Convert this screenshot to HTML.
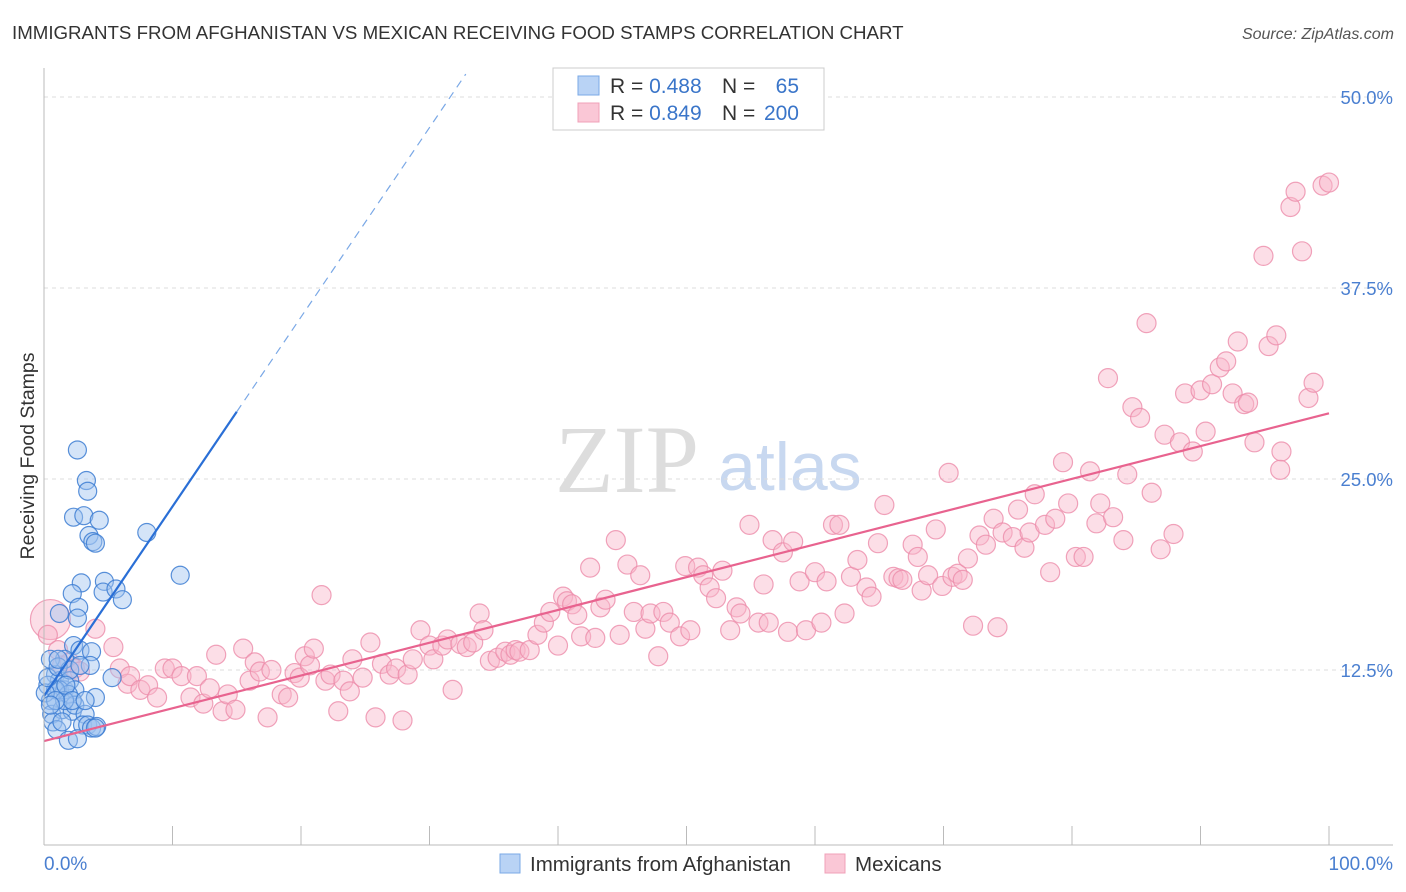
<!DOCTYPE html>
<html><head><meta charset="utf-8"><style>
body{margin:0;background:#fff;font-family:"Liberation Sans",sans-serif;}
#wrap{position:relative;width:1406px;height:892px;overflow:hidden;}
</style></head><body>
<div id="wrap">
<svg id="svg" width="1406" height="892">
<text x="12" y="39" font-size="18.7" fill="#333">IMMIGRANTS FROM AFGHANISTAN VS MEXICAN RECEIVING FOOD STAMPS CORRELATION CHART</text>
<text x="1394" y="39" font-size="16" fill="#555" font-style="italic" text-anchor="end">Source: ZipAtlas.com</text>
<text transform="translate(34,456) rotate(-90)" font-size="19.5" fill="#333" text-anchor="middle">Receiving Food Stamps</text>
<text x="555" y="492" font-size="96" fill="#ddd" font-family="Liberation Serif,serif">ZIP</text>
<text x="718" y="490" font-size="68" fill="#c8d8f0">atlas</text>
<g id="grid"></g><g id="pts"></g><g id="lines"></g>
<line x1="44" y1="68" x2="44" y2="845" stroke="#bbb"/>
<line x1="44" y1="845" x2="1393" y2="845" stroke="#bbb"/>
<text x="44" y="870" font-size="19" fill="#4a7fd0">0.0%</text>
<text x="1393" y="870" font-size="19" fill="#4a7fd0" text-anchor="end">100.0%</text>
<g>
<rect x="553" y="68" width="271" height="62" fill="#fff" stroke="#ccc"/>
<rect x="578" y="76" width="21" height="19" fill="#b9d3f5" stroke="#7aa8e6"/>
<rect x="578" y="103" width="21" height="19" fill="#fac7d6" stroke="#f0a0b8"/>
<text x="610" y="93" font-size="21" fill="#333">R = <tspan fill="#3a75c9">0.488</tspan></text>
<text x="722" y="93" font-size="21" fill="#333">N =</text><text x="799" y="93" font-size="21" fill="#3a75c9" text-anchor="end">65</text>
<text x="610" y="120" font-size="21" fill="#333">R = <tspan fill="#3a75c9">0.849</tspan></text>
<text x="722" y="120" font-size="21" fill="#333">N =</text><text x="799" y="120" font-size="21" fill="#3a75c9" text-anchor="end">200</text>
</g>
<g>
<rect x="500" y="854" width="20" height="19" fill="#b9d3f5" stroke="#7aa8e6"/>
<text x="530" y="871" font-size="20.5" fill="#333">Immigrants from Afghanistan</text>
<rect x="825" y="854" width="20" height="19" fill="#fac7d6" stroke="#f0a0b8"/>
<text x="855" y="871" font-size="20.5" fill="#333">Mexicans</text>
</g>
</svg></div>
<script>
const yTicks=[12.5,25,37.5,50];
const yTickLabels=["12.5%","25.0%","37.5%","50.0%"];
const xTicks=[0,10,20,30,40,50,60,70,80,90,100];
const blueX=[2.6,3.3,3.4,2.3,3.1,4.3,3.5,3.8,4.0,8.0,10.6,2.9,2.2,2.7,4.7,4.6,5.6,6.1,2.6,1.2,2.3,2.8,3.7,3.6,0.9,1.2,0.3,1.6,2.0,0.5,1.2,2.4,1.9,5.3,0.6,1.4,2.2,2.4,0.7,1.0,3.2,4.0,3.0,3.4,3.7,4.1,1.9,2.6,4.0,1.6,0.5,0.9,1.6,0.1,0.3,1.1,2.0,1.7,2.2,0.9,3.2,0.5,1.4,1.1,2.8];
const blueY=[26.9,24.9,24.2,22.5,22.6,22.3,21.3,20.9,20.8,21.5,18.7,18.2,17.5,16.6,18.3,17.6,17.8,17.1,15.9,16.2,14.1,13.8,13.7,12.8,12.2,11.8,11.5,11.2,11.8,10.5,11.2,11.2,10.9,12.0,9.6,9.9,9.8,10.2,9.1,8.6,9.6,10.7,8.9,8.9,8.7,8.8,7.9,8.0,8.7,13.2,13.2,11.2,10.5,11.0,12.0,12.7,12.5,11.5,10.5,10.5,10.5,10.2,9.1,13.2,12.8];
const pinkX=[0.5,0.3,1.1,1.4,2.0,2.4,2.8,4.0,5.4,5.9,6.5,6.7,7.5,8.1,8.8,9.4,10.0,10.7,11.4,11.9,12.4,12.9,13.4,13.9,14.3,14.9,15.5,16.0,16.4,16.8,17.4,17.7,18.5,19.0,19.5,19.9,20.3,20.7,21.0,21.6,21.9,22.3,22.9,23.3,23.8,24.0,24.8,25.4,25.8,26.3,26.9,27.4,27.9,28.3,28.7,29.3,30.0,30.3,31.0,31.4,31.8,32.4,32.9,33.4,33.9,34.2,34.7,35.3,35.9,36.3,36.7,37.0,37.8,38.4,38.9,39.4,40.0,40.4,40.7,41.1,41.5,41.8,42.5,42.9,43.3,43.7,44.5,44.8,45.4,45.9,46.4,46.8,47.2,47.8,48.2,48.7,49.5,49.9,50.3,50.9,51.3,51.8,52.3,52.8,53.4,53.9,54.2,54.9,55.6,56.0,56.4,56.7,57.5,57.9,58.3,58.8,59.3,60.0,60.5,60.9,61.4,61.9,62.3,62.8,63.3,64.0,64.4,64.9,65.4,66.1,66.5,66.8,67.6,68.0,68.3,68.8,69.4,69.9,70.4,70.7,71.1,71.5,71.9,72.3,72.8,73.3,73.9,74.2,74.6,75.4,75.8,76.3,76.7,77.1,77.9,78.3,78.7,79.3,79.7,80.3,80.9,81.4,81.9,82.2,82.8,83.2,84.0,84.3,84.7,85.3,85.8,86.2,86.9,87.2,87.9,88.4,88.8,89.4,90.0,90.4,90.9,91.5,92.0,92.5,92.9,93.4,93.7,94.2,94.9,95.3,95.9,96.3,97.0,97.4,97.9,98.4,98.8,99.5,100.0,96.2];
const pinkY=[15.8,14.8,13.8,12.8,13.0,12.6,12.4,15.2,14.0,12.6,11.6,12.1,11.2,11.5,10.7,12.6,12.6,12.1,10.7,12.1,10.3,11.3,13.5,9.8,10.9,9.9,13.9,11.8,13.0,12.4,9.4,12.5,10.9,10.7,12.3,12.0,13.4,12.8,13.9,17.4,11.8,12.2,9.8,11.8,11.1,13.2,12.0,14.3,9.4,12.9,12.2,12.6,9.2,12.2,13.2,15.1,14.1,13.2,14.1,14.5,11.2,14.2,14.0,14.3,16.2,15.1,13.1,13.3,13.7,13.5,13.8,13.7,13.8,14.8,15.6,16.3,14.1,17.3,17.0,16.8,16.1,14.7,19.2,14.6,16.6,17.1,21.0,14.8,19.4,16.3,18.7,15.2,16.2,13.4,16.3,15.6,14.7,19.3,15.1,19.2,18.7,17.9,17.2,19.0,15.1,16.6,16.2,22.0,15.6,18.1,15.6,21.0,20.2,15.0,20.9,18.3,15.1,18.9,15.6,18.3,22.0,22.0,16.2,18.6,19.7,17.9,17.3,20.8,23.3,18.6,18.5,18.4,20.7,19.9,17.7,18.7,21.7,18.0,25.4,18.6,18.8,18.4,19.8,15.4,21.3,20.7,22.4,15.3,21.5,21.2,23.0,20.5,21.5,24.0,22.0,18.9,22.4,26.1,23.4,19.9,19.9,25.5,22.1,23.4,31.6,22.5,21.0,25.3,29.7,29.0,35.2,24.1,20.4,27.9,21.4,27.4,30.6,26.8,30.8,28.1,31.2,32.3,32.7,30.6,34.0,29.9,30.0,27.4,39.6,33.7,34.4,26.8,42.8,43.8,39.9,30.3,31.3,44.2,44.4,25.6];
const blueTrend=[10.8,1.24];
const pinkTrend=[7.85,0.2145];
const X=v=>44+v*12.85, Y=v=>861-v*15.28;
const NS="http://www.w3.org/2000/svg";
function mk(tag,parent,attrs){const e=document.createElementNS(NS,tag);for(const k in attrs)e.setAttribute(k,attrs[k]);parent.appendChild(e);return e;}
const grid=document.getElementById('grid');
yTicks.forEach((t,i)=>{
 const l=mk('line',grid,{x1:44,x2:1393,y1:Y(t),y2:Y(t),stroke:'#ddd','stroke-dasharray':'4,4'});
 
 
 const tx=mk('text',grid,{x:1393,y:Y(t)+7,'font-size':18.5,fill:'#4a7fd0','text-anchor':'end'});
 tx.textContent=yTickLabels[i];
 
 
});
xTicks.forEach(t=>{
 const l=mk('line',grid,{x1:X(t),x2:X(t),y1:826,y2:845,stroke:'#bbb'});
 
 
});
const pts=document.getElementById('pts');
pinkX.forEach((x,i)=>{
 const c=mk('circle',pts,{cx:X(x),cy:Y(pinkY[i]),r:i===0?20:9.5,fill:'rgba(248,182,202,0.45)',stroke:'rgba(236,140,170,0.8)','stroke-width':1.2});
 
 
});
blueX.forEach((x,i)=>{
 const c=mk('circle',pts,{cx:X(x),cy:Y(blueY[i]),r:9,fill:'rgba(160,196,240,0.45)',stroke:'rgba(60,125,210,0.85)','stroke-width':1.2});
 
 
});
const lines=document.getElementById('lines');
const bt=x=>blueTrend[0]+blueTrend[1]*x, pt=x=>pinkTrend[0]+pinkTrend[1]*x;
let l1=mk('line',lines,{x1:X(0),y1:Y(bt(0)),x2:X(15),y2:Y(bt(15)),stroke:'#2a6fd6','stroke-width':2.2});


const xe=(51.5-blueTrend[0])/blueTrend[1];
let l2=mk('line',lines,{x1:X(15),y1:Y(bt(15)),x2:X(xe),y2:Y(51.5),stroke:'#7aa8e6','stroke-width':1.2,'stroke-dasharray':'8,6'});


let l3=mk('line',lines,{x1:X(0),y1:Y(pt(0)),x2:X(100),y2:Y(pt(100)),stroke:'#e8638f','stroke-width':2.2});


</script>
</body></html>
